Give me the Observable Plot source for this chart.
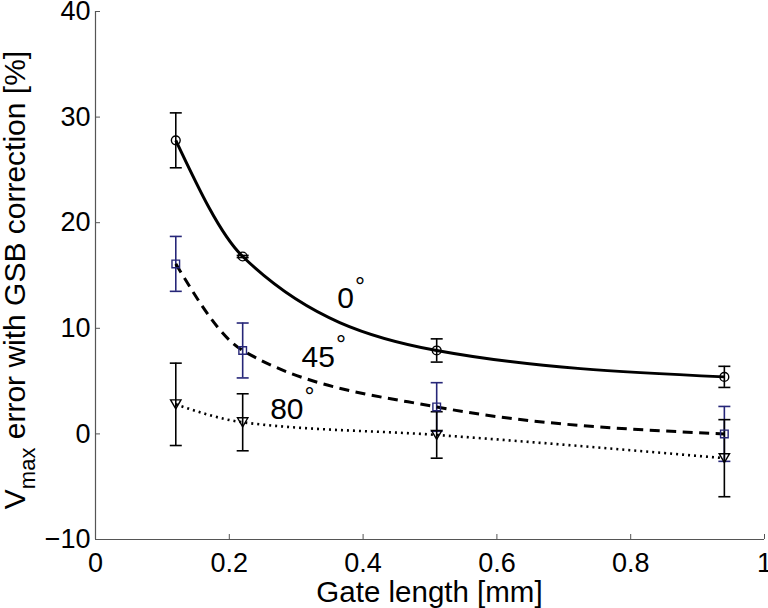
<!DOCTYPE html>
<html>
<head>
<meta charset="utf-8">
<script src="https://cdn.jsdelivr.net/npm/d3@7"></script>
<script src="https://cdn.jsdelivr.net/npm/@observablehq/plot@0.6"></script>
<style>
  html, body { margin: 0; padding: 0; background: #fff; }
  #chart svg { overflow: visible; }
</style>
</head>
<body>
<div id="chart"></div>
<script>
// Gate lengths [mm]
const gateLength = [0.12, 0.22, 0.51, 0.94];
// Vmax error (%) and its spread for each angle
const err0  = [27.8, 16.8, 7.9, 5.4];
const sd0   = [2.6, 0.1, 1.1, 1.0];
const err45 = [16.1, 7.9, 2.55, 0.0];
const sd45  = [2.6, 2.6, 2.3, 2.6];
const err80 = [2.8, 1.1, -0.1, -2.3];
const sd80  = [3.9, 2.7, 2.2, 3.65];
// Angle labels and their anchor (data coordinates)
const angleLabels = ["0", "45", "80"];
const labelX = [0.374, 0.333, 0.286];
const labelY = [12.8, 7.26, 2.34];
const xTicks = [0, 0.2, 0.4, 0.6, 0.8, 1];
const yTicks = [-10, 0, 10, 20, 30, 40];

const navy = "#262678";
const series = [
  {angle: "0", v: err0, s: sd0, color: "#000", dash: null, width: 3},
  {angle: "45", v: err45, s: sd45, color: navy, dash: "10,6.5", width: 3},
  {angle: "80", v: err80, s: sd80, color: "#000", dash: "2,4", width: 2.6}
];
const rows = series.flatMap(S => gateLength.map((x, i) => ({
  angle: S.angle, x, y: S.v[i], lo: S.v[i] - S.s[i], hi: S.v[i] + S.s[i]
})));

// custom symbols
const capSymbol = {draw(ctx) { ctx.moveTo(-6, 0); ctx.lineTo(6, 0); }};
const triDown = {draw(ctx) { ctx.moveTo(-5.2, -4.5); ctx.lineTo(5.2, -4.5); ctx.lineTo(0, 4.5); ctx.closePath(); }};
const squareSym = {draw(ctx) { ctx.rect(-3.8, -3.8, 7.6, 7.6); }};

const font = "'Liberation Sans', Arial, Helvetica, sans-serif";
const labelFont = 30;
const marks = [];
marks.push(Plot.ruleX([0], {stroke: "#555", strokeWidth: 1.2}));
marks.push(Plot.ruleY([-10], {stroke: "#555", strokeWidth: 1.2}));
marks.push(Plot.axisX({ticks: xTicks, tickSize: -5, tickPadding: 18, stroke: "#555", fill: "#000", fontSize: 27, label: null, tickFormat: d => String(d)}));
marks.push(Plot.axisY({ticks: yTicks, tickSize: -5, tickPadding: 10, stroke: "#555", fill: "#000", fontSize: 27, label: null, tickFormat: d => d < 0 ? "\u2212" + Math.abs(d) : String(d)}));
// error bars
for (const S of series) {
  const d = rows.filter(r => r.angle === S.angle);
  marks.push(Plot.ruleX(d, {x: "x", y1: "lo", y2: "hi", stroke: S.color, strokeWidth: 1.6}));
  marks.push(Plot.dot(d, {x: "x", y: "lo", symbol: capSymbol, stroke: S.color, strokeWidth: 1.6, fill: "none"}));
  marks.push(Plot.dot(d, {x: "x", y: "hi", symbol: capSymbol, stroke: S.color, strokeWidth: 1.6, fill: "none"}));
}
// curves
for (const S of series) {
  const d = rows.filter(r => r.angle === S.angle);
  marks.push(Plot.line(d, {x: "x", y: "y", curve: "monotone-x", stroke: "#000", strokeWidth: S.width, strokeDasharray: S.dash, strokeLinecap: "butt"}));
}
// markers
marks.push(Plot.dot(rows.filter(r => r.angle === "0"), {x: "x", y: "y", symbol: "circle", r: 4.4, stroke: "#000", fill: "none", strokeWidth: 1.4}));
marks.push(Plot.dot(rows.filter(r => r.angle === "45"), {x: "x", y: "y", symbol: squareSym, stroke: navy, fill: "none", strokeWidth: 1.4}));
marks.push(Plot.dot(rows.filter(r => r.angle === "80"), {x: "x", y: "y", symbol: triDown, stroke: "#000", fill: "none", strokeWidth: 1.4}));
// angle labels with degree sign
angleLabels.forEach((t, i) => {
  const d = [{t, x: labelX[i], y: labelY[i]}];
  marks.push(Plot.text(d, {x: "x", y: "y", text: "t", fontSize: labelFont, fill: "#000", textAnchor: "middle", fontFamily: font}));
  marks.push(Plot.text(d, {x: "x", y: "y", text: () => "\u00B0", fontSize: 25, fill: "#000", textAnchor: "middle", fontFamily: font,
    dx: t.length * 0.556 * labelFont / 2 + 6, dy: -12}));
});

const plot = Plot.plot({
  width: 768,
  height: 608,
  marginLeft: 95,
  marginRight: 4,
  marginTop: 11,
  marginBottom: 69,
  style: {fontFamily: font, background: "#fff", color: "#000", overflow: "visible"},
  x: {type: "linear", domain: [0, 1]},
  y: {type: "linear", domain: [-10, 40]},
  marks
});

const svg = d3.select(plot);
svg.append("text")
  .attr("x", 95 + 0.5 * 669).attr("y", 602)
  .attr("text-anchor", "middle")
  .attr("font-family", font).attr("font-size", 29.5).attr("fill", "#000")
  .text("Gate length [mm]");
const yt = svg.append("text")
  .attr("transform", "translate(25,280) rotate(-90)")
  .attr("text-anchor", "middle")
  .attr("font-family", font).attr("font-size", 30).attr("fill", "#000");
yt.append("tspan").text("V");
yt.append("tspan").attr("font-size", 22).attr("dy", 10).text("max");
yt.append("tspan").attr("dy", -10).text(" error with GSB correction [%]");

document.getElementById("chart").appendChild(plot);
</script>
</body>
</html>
